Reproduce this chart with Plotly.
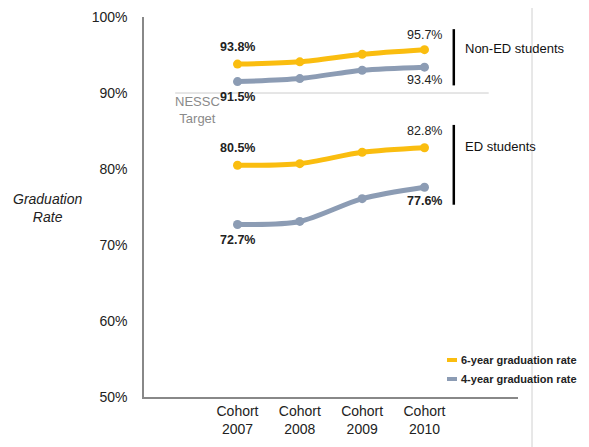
import plotly.graph_objects as go

cohorts = ["Cohort<br>2007", "Cohort<br>2008", "Cohort<br>2009", "Cohort<br>2010"]
six_year_non_ed = [93.8, 94.1, 95.1, 95.7]
four_year_non_ed = [91.5, 91.9, 93.0, 93.4]
six_year_ed = [80.5, 80.7, 82.2, 82.8]
four_year_ed = [72.7, 73.1, 76.1, 77.6]
y_ticks = [50, 60, 70, 80, 90, 100]
y_tick_labels = ["50%", "60%", "70%", "80%", "90%", "100%"]
target = 90
series_names = ["6-year graduation rate", "4-year graduation rate"]

YELLOW = "#FABD0F"
GRAY = "#8C9CB4"
FONT = "Liberation Sans, Arial, Helvetica, sans-serif"
x = list(range(len(cohorts)))

# page body has an 8px margin; plot area spans page x 144..518, y 17..397
L, T, W, H = 136, 9, 581, 439
PW, PH = 374, 380


def px(page_x):
    return (page_x - 8 - L) / PW


def py(page_y):
    return (T + PH - (page_y - 8)) / PH


fig = go.Figure()
for vals, col in [(six_year_non_ed, YELLOW), (four_year_non_ed, GRAY),
                  (six_year_ed, YELLOW), (four_year_ed, GRAY)]:
    fig.add_trace(go.Scatter(
        x=x, y=vals, mode="lines+markers",
        line=dict(color=col, width=5, shape="spline", smoothing=0.8),
        marker=dict(color=col, size=9),
        showlegend=False, hoverinfo="skip", cliponaxis=False))

# data labels: (series, index, yshift, bold)
labels = [
    (six_year_non_ed, 0, 17, True), (four_year_non_ed, 0, -15, True),
    (six_year_non_ed, 3, 15, False), (four_year_non_ed, 3, -13, False),
    (six_year_ed, 0, 17, True), (six_year_ed, 3, 17, False),
    (four_year_ed, 0, -16, True), (four_year_ed, 3, -14, True),
]
for vals, i, ys, bold in labels:
    t = f"{vals[i]:.1f}%"
    fig.add_annotation(x=x[i], y=vals[i], yshift=ys, showarrow=False,
                       text=f"<b>{t}</b>" if bold else t,
                       font=dict(family=FONT, size=12.5, color="#222"))

# NESSC target line
fig.add_shape(type="line", x0=-1.0, x1=4.03, y0=target, y1=target,
              line=dict(color="#cccccc", width=1))
fig.add_annotation(x=-1.04, y=87.8, xanchor="left", showarrow=False,
                   text="NESSC<br>Target", align="center",
                   font=dict(family=FONT, size=13, color="#8a8a8a"))

# brackets
fig.add_shape(type="line", x0=3.47, x1=3.47, y0=98.4, y1=91.0,
              line=dict(color="black", width=2.5))
fig.add_shape(type="line", x0=3.47, x1=3.47, y0=85.8, y1=75.3,
              line=dict(color="black", width=2.5))
fig.add_annotation(x=3.62, y=95.8, xanchor="left", showarrow=False,
                   text="Non-ED students", font=dict(family=FONT, size=13, color="#111"))
fig.add_annotation(x=3.62, y=82.9, xanchor="left", showarrow=False,
                   text="ED students", font=dict(family=FONT, size=13, color="#111"))

# separator line on right
fig.add_shape(type="line", xref="paper", yref="paper", x0=px(532), x1=px(532),
              y0=py(447), y1=py(0), line=dict(color="#d0d0d0", width=1))

# custom legend
for k, (name, col) in enumerate(zip(series_names, [YELLOW, GRAY])):
    yp = py(360 + 19 * k)
    fig.add_shape(type="line", xref="paper", yref="paper",
                  x0=px(447), x1=px(457), y0=yp, y1=yp,
                  line=dict(color=col, width=4))
    fig.add_annotation(xref="paper", yref="paper", x=px(459), y=yp,
                       xanchor="left", yanchor="middle", showarrow=False,
                       text=f"<b>{name}</b>",
                       font=dict(family=FONT, size=11, color="#222"))

# y-axis title
fig.add_annotation(xref="paper", yref="paper", x=px(47), y=py(208),
                   xanchor="center", yanchor="middle",
                   showarrow=False, text="<i>Graduation<br>Rate</i>", align="center",
                   font=dict(family=FONT, size=14, color="#222"))

fig.update_layout(
    width=W, height=H, margin=dict(l=L, r=W - L - PW, t=T, b=H - T - PH),
    paper_bgcolor="white", plot_bgcolor="white",
    font=dict(family=FONT, color="#222"),
    xaxis=dict(range=[-1.5, 4.5], tickvals=x, ticktext=cohorts, showgrid=False,
               zeroline=False, showline=True, linecolor="#888", linewidth=1.5,
               tickfont=dict(size=14, color="#222"), ticks="", automargin=False),
    yaxis=dict(range=[50, 100], tickvals=y_ticks, ticktext=y_tick_labels, showgrid=False,
               zeroline=False, showline=True, linecolor="#888", linewidth=1.5,
               tickfont=dict(size=14, color="#222"), ticks="", ticklabelstandoff=12,
               automargin=False),
)

fig.write_html("out.html")
